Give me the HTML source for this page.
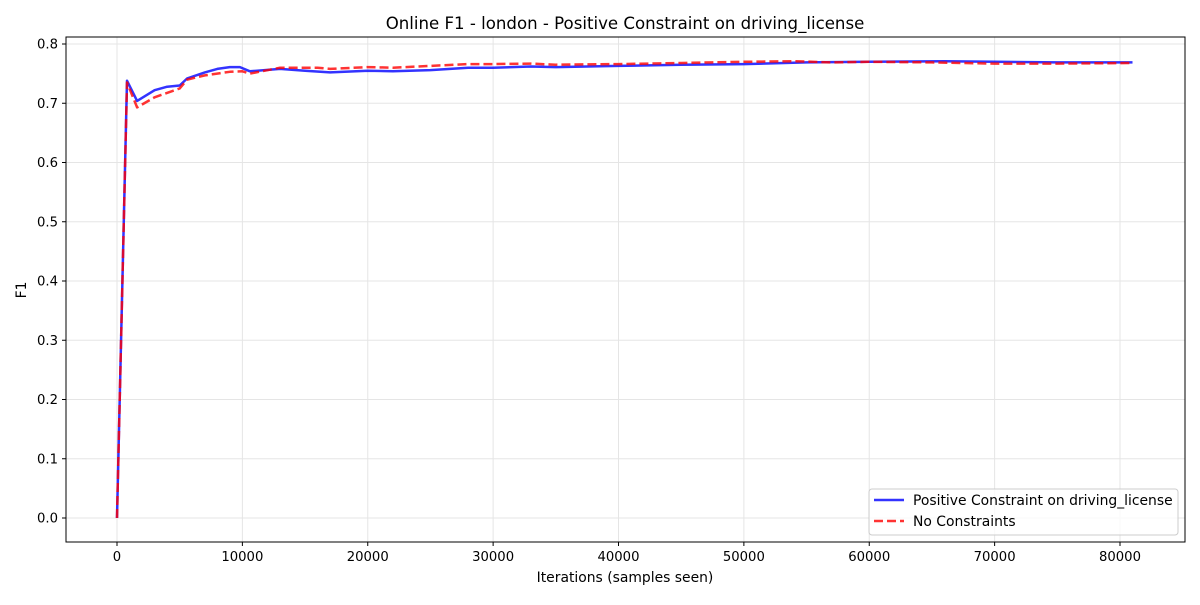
<!DOCTYPE html>
<html><head><meta charset="utf-8"><style>
body{margin:0;background:#fff;}
svg text{font-family:"DejaVu Sans","Liberation Sans",sans-serif;fill:#000;}
</style></head><body>
<svg id="chart" width="1200" height="600" xmlns="http://www.w3.org/2000/svg">
<rect width="1200" height="600" fill="#fff"/>
<text x="625" y="29" font-size="16.6" text-anchor="middle">Online F1 - london - Positive Constraint on driving_license</text>
<g id="grid"></g>
<g id="series"></g>
<rect x="66" y="37" width="1119" height="505" fill="none" stroke="#000" stroke-width="1"/>
<g id="ticks"></g>
<text x="625" y="582" font-size="13.9" text-anchor="middle">Iterations (samples seen)</text>
<text x="26" y="290" font-size="13.9" text-anchor="middle" transform="rotate(-90 26 290)">F1</text>
<g>
<rect x="869" y="489" width="309" height="46" rx="3" fill="#fff" fill-opacity="0.8" stroke="#ccc"/>
<g>
<line x1="874" y1="500" x2="904" y2="500" stroke="#0000ff" stroke-opacity="0.8" stroke-width="2.5"/>
<text x="913" y="505" font-size="13.9">Positive Constraint on driving_license</text></g>
<g>
<line x1="874" y1="521" x2="904" y2="521" stroke="#ff0000" stroke-opacity="0.8" stroke-width="2.5" stroke-dasharray="9,4"/>
<text x="913" y="526" font-size="13.9">No Constraints</text></g>
</g>
</svg>
<script>
const xTicks=[0,10000,20000,30000,40000,50000,60000,70000,80000];
const yTicks=[0,0.1,0.2,0.3,0.4,0.5,0.6,0.7,0.8];
const posX=[0,800,1600,3000,4000,5000,5600,7000,8000,9000,9800,10600,13000,15000,17000,20000,22000,25000,28000,30000,33000,35000,40000,45000,50000,55000,60000,66000,70000,75000,81000];
const posY=[0,0.738,0.704,0.722,0.728,0.730,0.742,0.752,0.758,0.761,0.761,0.754,0.758,0.755,0.752,0.755,0.754,0.756,0.760,0.760,0.762,0.761,0.763,0.765,0.766,0.769,0.770,0.771,0.770,0.769,0.769];
const noX=[0,800,1600,3000,5000,5600,7000,9000,10000,10600,13000,16000,17000,20000,22000,25000,28000,30000,33000,35000,40000,45000,50000,54000,57000,60000,65000,70000,75000,81000];
const noY=[0,0.735,0.693,0.710,0.725,0.740,0.747,0.753,0.754,0.750,0.760,0.760,0.758,0.761,0.760,0.763,0.766,0.766,0.767,0.765,0.766,0.768,0.770,0.771,0.769,0.770,0.769,0.767,0.767,0.768];
const NS="http://www.w3.org/2000/svg";
const sx=v=>117+v*(1120-117)/80000;
const sy=v=>518-v*592.5;
function mk(tag,attrs,parent){const e=document.createElementNS(NS,tag);for(const k in attrs)e.setAttribute(k,attrs[k]);parent.appendChild(e);return e;}
const grid=document.getElementById('grid'),ticks=document.getElementById('ticks'),ser=document.getElementById('series');
xTicks.forEach(t=>{const x=sx(t);
 const g=mk('line',{x1:x,x2:x,y1:37,y2:542,stroke:'#e5e5e5','stroke-width':1},grid);
 
 
 mk('line',{x1:x,x2:x,y1:542,y2:546,stroke:'#000'},ticks);
 const tx=mk('text',{x:x,y:561,'font-size':13.2,'text-anchor':'middle'},ticks);tx.textContent=t;
 
 
});
yTicks.forEach(t=>{const y=sy(t);
 const g=mk('line',{x1:66,x2:1185,y1:y,y2:y,stroke:'#e5e5e5','stroke-width':1},grid);
 
 
 mk('line',{x1:62,x2:66,y1:y,y2:y,stroke:'#000'},ticks);
 const tx=mk('text',{x:58,y:y+4.5,'font-size':13.2,'text-anchor':'end'},ticks);tx.textContent=t.toFixed(1);
 
 
});
function line(xs,ys,color,dash,name){
 const d=xs.map((x,i)=>(i?'L':'M')+sx(x).toFixed(1)+','+sy(ys[i]).toFixed(1)).join('');
 const p=mk('path',{d:d,fill:'none',stroke:color,'stroke-opacity':0.8,'stroke-width':2.5,'stroke-linejoin':'round'},ser);
 if(dash)p.setAttribute('stroke-dasharray',dash);
 
 
}
line(posX,posY,'#0000ff',null,'positive-constraint-line');
line(noX,noY,'#ff0000','9,4','no-constraints-line');
</script>
</body></html>
